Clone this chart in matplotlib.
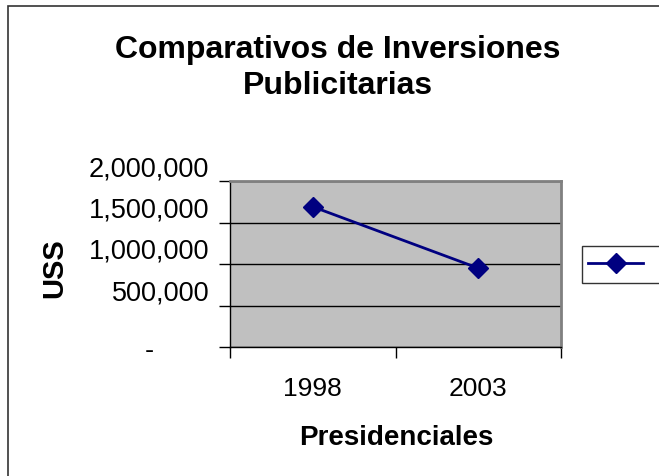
import matplotlib
matplotlib.use("Agg")
import matplotlib.pyplot as plt
import matplotlib.transforms as mtransforms
from matplotlib.patches import Rectangle

# data
years = ["1998", "2003"]
inversion = [1690000, 950000]
y_ticks = [0, 500000, 1000000, 1500000, 2000000]
y_labels = ["-", "500,000", "1,000,000", "1,500,000", "2,000,000"]

plt.rcParams['font.family'] = ['Liberation Sans', 'DejaVu Sans']

fig = plt.figure(figsize=(6.59, 4.77), dpi=100)
fig.patch.set_facecolor("white")

# outer chart border (left/top visible, runs off right and bottom)
fig.patches.append(Rectangle((8 / 659, -0.1), 1.2, 1 - 7 / 477 + 0.1,
                             transform=fig.transFigure, fill=False,
                             edgecolor="#333333", linewidth=1.2))

ax = fig.add_axes([230 / 659, 1 - 348 / 477, 331 / 659, 166 / 477])
ax.set_facecolor("#C0C0C0")

x = range(len(years))
line, = ax.plot(x, inversion, color="#000080", linewidth=2, marker="D",
                markersize=10, markerfacecolor="#000080", markeredgecolor="#000080",
                zorder=3)

ax.set_xlim(-0.5, len(years) - 0.5)
ax.set_ylim(0, 2000000)
ax.set_yticks(y_ticks)
ax.set_yticklabels(y_labels, fontsize=19.5)
ax.set_xticks(x)
ax.set_xticklabels(years, fontsize=19)
ax.set_xticks([-0.5, 0.5, 1.5], minor=True)
ax.tick_params(axis="x", which="major", length=0, pad=21)
ax.tick_params(axis="x", which="minor", length=8, width=1, direction="out")
ax.tick_params(axis="y", length=8, width=1, direction="out", pad=7)

# Excel drew the number labels a bit above their gridlines,
# and the zero dash sits further left
shift = mtransforms.ScaledTranslation(0, 16 / 100, fig.dpi_scale_trans)
for lbl in ax.get_yticklabels()[1:]:
    lbl.set_transform(lbl.get_transform() + shift)
dash = ax.get_yticklabels()[0]
dash.set_transform(dash.get_transform() +
                   mtransforms.ScaledTranslation(-55 / 100, 0, fig.dpi_scale_trans))

ax.grid(axis="y", color="black", linewidth=1)
ax.set_axisbelow(True)
for s in ["top", "right"]:
    ax.spines[s].set_color("#808080")
    ax.spines[s].set_linewidth(2)
for s in ["left", "bottom"]:
    ax.spines[s].set_color("black")
    ax.spines[s].set_linewidth(1)

ax.set_xlabel("Presidenciales", fontsize=20, fontweight="bold", va="center")
ax.xaxis.set_label_coords(0.5015, -0.54)
ax.set_ylabel("USS", fontsize=21, fontweight="bold", va="center")
ax.yaxis.set_label_coords(-0.53, 0.48)

fig.text(338 / 659, 1 - 68 / 477, "Comparativos de Inversiones\nPublicitarias",
         ha="center", va="center", fontsize=23, fontweight="bold", linespacing=1.25)

leg = fig.legend([line], ["    "], loc="upper left",
                 bbox_to_anchor=(582 / 659, 1 - 247 / 477), fontsize=18,
                 handlelength=2.2, borderpad=0.25, borderaxespad=0,
                 frameon=True, fancybox=False, edgecolor="black")
leg.get_frame().set_linewidth(1)

fig.savefig("out.png", dpi=100)
